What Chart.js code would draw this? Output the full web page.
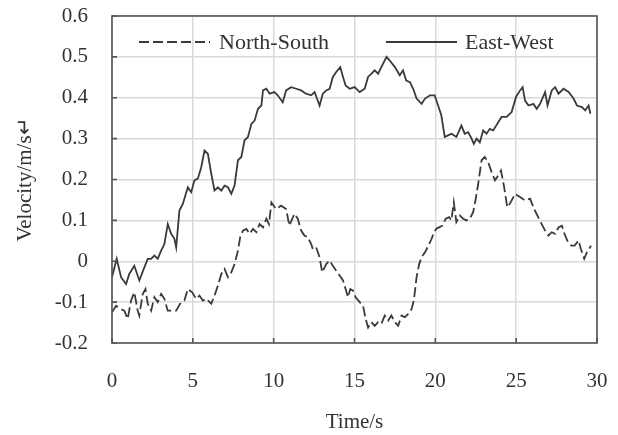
<!DOCTYPE html>
<html>
<head>
<meta charset="utf-8">
<script src="https://cdn.jsdelivr.net/npm/chart.js@4/dist/chart.umd.min.js"></script>
<style>
  body { margin: 0; background: #fff; }
  #wrap { width: 618px; height: 435px; }
</style>
</head>
<body>
<div id="wrap"><canvas id="velocityChart" width="618" height="435"></canvas></div>
<script>
// Axis ticks
const xTicks = [0, 5, 10, 15, 20, 25, 30];
const yTicks = [-0.2, -0.1, 0, 0.1, 0.2, 0.3, 0.4, 0.5, 0.6];

// North-South (dashed)
const nsTime = [0, 0.25, 0.56, 0.76, 0.97, 1.18, 1.38, 1.59, 1.69, 1.9,
  2.07, 2.21, 2.42, 2.62, 2.83, 3.04, 3.24, 3.45, 3.66, 3.97,
  4.21, 4.48, 4.69, 4.96, 5.21, 5.41, 5.62, 5.83, 6.14, 6.34,
  6.55, 6.76, 6.96, 7.17, 7.38, 7.58, 7.79, 7.93, 8.1, 8.31,
  8.51, 8.72, 8.93, 9.13, 9.34, 9.55, 9.71, 9.86, 10.14, 10.46,
  10.77, 10.97, 11.28, 11.49, 11.7, 11.9, 12.11, 12.32, 12.42, 12.63,
  12.84, 13.0, 13.25, 13.46, 13.66, 13.87, 14.08, 14.29, 14.45, 14.6,
  14.74, 14.91, 15.07, 15.32, 15.53, 15.69, 15.84, 16.05, 16.25, 16.46,
  16.66, 16.87, 17.08, 17.28, 17.5, 17.7, 17.91, 18.12, 18.32, 18.53,
  18.67, 18.84, 19.0, 19.15, 19.36, 19.57, 19.77, 19.92, 20.08, 20.23,
  20.43, 20.64, 20.85, 20.99, 21.14, 21.3, 21.51, 21.72, 21.93, 22.13,
  22.34, 22.5, 22.65, 22.86, 23.06, 23.27, 23.48, 23.69, 23.89, 24.06,
  24.24, 24.45, 24.66, 24.93, 25.24, 25.55, 25.86, 26.11, 26.31, 26.58,
  26.79, 27.0, 27.2, 27.41, 27.62, 27.83, 27.99, 28.2, 28.41, 28.61,
  28.86, 29.0, 29.21, 29.38, 29.63];
const nsVelocity = [-0.125, -0.109, -0.117, -0.121, -0.141, -0.096, -0.076, -0.121, -0.133, -0.08,
  -0.068, -0.104, -0.121, -0.088, -0.1, -0.08, -0.092, -0.121, -0.121, -0.121,
  -0.104, -0.096, -0.068, -0.076, -0.092, -0.084, -0.096, -0.092, -0.104, -0.084,
  -0.06, -0.031, -0.019, -0.039, -0.027, -0.007, 0.026, 0.059, 0.075, 0.079,
  0.067, 0.079, 0.071, 0.091, 0.083, 0.104, 0.091, 0.144, 0.128, 0.136,
  0.128, 0.087, 0.116, 0.104, 0.075, 0.063, 0.059, 0.042, 0.03, 0.034,
  0.01, -0.027, -0.007, 0.002, -0.011, -0.023, -0.035, -0.047, -0.068, -0.088,
  -0.068, -0.072, -0.088, -0.1, -0.109, -0.141, -0.162, -0.149, -0.158, -0.149,
  -0.153, -0.133, -0.145, -0.133, -0.149, -0.158, -0.133, -0.137, -0.129, -0.117,
  -0.096, -0.039, -0.007, 0.01, 0.022, 0.038, 0.055, 0.071, 0.08, 0.083,
  0.087, 0.104, 0.108, 0.1, 0.144, 0.096, 0.112, 0.104, 0.1, 0.104,
  0.12, 0.153, 0.189, 0.247, 0.255, 0.242, 0.218, 0.198, 0.21, 0.222,
  0.185, 0.132, 0.144, 0.165, 0.157, 0.149, 0.153, 0.128, 0.112, 0.091,
  0.075, 0.063, 0.071, 0.067, 0.083, 0.087, 0.067, 0.047, 0.038, 0.038,
  0.051, 0.03, 0.006, 0.022, 0.038];

// East-West (solid)
const ewTime = [0, 0.29, 0.56, 0.87, 1.07, 1.38, 1.69, 2.0, 2.21, 2.42,
  2.62, 2.83, 3.04, 3.24, 3.45, 3.66, 3.86, 3.97, 4.17, 4.38,
  4.69, 4.9, 5.1, 5.31, 5.52, 5.72, 5.93, 6.14, 6.34, 6.55,
  6.76, 6.96, 7.17, 7.38, 7.58, 7.79, 8.0, 8.2, 8.41, 8.62,
  8.82, 9.03, 9.24, 9.34, 9.55, 9.75, 10.04, 10.25, 10.56, 10.77,
  11.08, 11.4, 11.7, 12.0, 12.32, 12.53, 12.84, 13.04, 13.25, 13.46,
  13.66, 13.87, 14.12, 14.29, 14.45, 14.7, 15.01, 15.32, 15.63, 15.84,
  16.05, 16.25, 16.46, 16.66, 16.98, 17.18, 17.5, 17.8, 18.0, 18.2,
  18.43, 18.63, 18.84, 19.15, 19.36, 19.67, 19.96, 20.17, 20.37, 20.58,
  20.79, 21.0, 21.3, 21.61, 21.82, 22.03, 22.24, 22.38, 22.55, 22.75,
  22.96, 23.17, 23.37, 23.58, 23.89, 24.1, 24.41, 24.72, 24.99, 25.24,
  25.4, 25.55, 25.76, 26.07, 26.27, 26.48, 26.79, 26.94, 27.2, 27.41,
  27.62, 27.93, 28.24, 28.55, 28.76, 29.07, 29.27, 29.48, 29.59];
const ewVelocity = [-0.039, 0.006, -0.039, -0.056, -0.031, -0.011, -0.047, -0.015, 0.006, 0.006,
  0.014, 0.006, 0.026, 0.042, 0.091, 0.067, 0.055, 0.034, 0.124, 0.14,
  0.181, 0.169, 0.198, 0.202, 0.23, 0.271, 0.263, 0.214, 0.173, 0.181,
  0.173, 0.185, 0.181, 0.165, 0.185, 0.247, 0.255, 0.296, 0.304, 0.336,
  0.344, 0.373, 0.381, 0.418, 0.422, 0.41, 0.414, 0.406, 0.389, 0.418,
  0.426, 0.422, 0.418, 0.41, 0.406, 0.414, 0.381, 0.41, 0.418, 0.422,
  0.451, 0.463, 0.475, 0.451, 0.43, 0.422, 0.426, 0.414, 0.422, 0.451,
  0.459, 0.467, 0.459, 0.475, 0.5, 0.491, 0.475, 0.455, 0.467, 0.442,
  0.438, 0.422, 0.398, 0.385, 0.398, 0.406, 0.406, 0.381, 0.357, 0.304,
  0.308, 0.312, 0.304, 0.332, 0.312, 0.316, 0.3, 0.287, 0.3, 0.291,
  0.32, 0.312, 0.324, 0.32, 0.34, 0.353, 0.353, 0.365, 0.402, 0.418,
  0.426, 0.393, 0.381, 0.385, 0.373, 0.385, 0.414, 0.381, 0.418, 0.426,
  0.41, 0.422, 0.414, 0.398, 0.381, 0.377, 0.369, 0.381, 0.361];

const seriesNames = ["North-South", "East-West"];

const inkColor = "#3a3a3a";
const textColor = "#333333";
const serif = "'Liberation Serif', 'Times New Roman', serif";

function toPoints(times, values) {
  return times.map((t, i) => ({ x: t, y: values[i] }));
}

// keep the plot box fixed: no extra room for half tick labels
function noEdgePadding(scale) {
  scale.paddingTop = 0;
  scale.paddingBottom = 0;
  scale.paddingLeft = 0;
  scale.paddingRight = 0;
}

// Frame, inside tick marks and in-plot legend
const framePlugin = {
  id: "frame",
  afterDraw(chart) {
    const { ctx, chartArea } = chart;
    const { left, right, top, bottom } = chartArea;
    const xs = chart.scales.x, ys = chart.scales.y;
    ctx.save();
    ctx.strokeStyle = "#555555";
    ctx.lineWidth = 1.6;
    ctx.setLineDash([]);
    ctx.strokeRect(left, top, right - left, bottom - top);

    // short tick marks on the inner side
    ctx.beginPath();
    yTicks.forEach(v => {
      const py = ys.getPixelForValue(v);
      ctx.moveTo(left, py);
      ctx.lineTo(left + 5, py);
    });
    xTicks.forEach(v => {
      const px = xs.getPixelForValue(v);
      ctx.moveTo(px, bottom);
      ctx.lineTo(px, bottom - 5);
    });
    ctx.stroke();

    // legend
    const legendY = top + 26;
    const slots = [
      { x0: left + 27, x1: left + 98, tx: left + 107 },
      { x0: left + 274, x1: left + 345, tx: left + 353 }
    ];
    ctx.font = "22px " + serif;
    ctx.textBaseline = "middle";
    ctx.textAlign = "left";
    chart.data.datasets.forEach((ds, i) => {
      const s = slots[i];
      ctx.strokeStyle = ds.borderColor;
      ctx.lineWidth = ds.borderWidth;
      ctx.setLineDash(ds.borderDash || []);
      ctx.beginPath();
      ctx.moveTo(s.x0, legendY);
      ctx.lineTo(s.x1, legendY);
      ctx.stroke();
      ctx.fillStyle = textColor;
      ctx.fillText(ds.label, s.tx, legendY + 1);
    });
    ctx.restore();
  }
};

const velocityCtx = document.getElementById("velocityChart");
new Chart(velocityCtx, {
  type: "line",
  data: {
    datasets: [{
      label: seriesNames[0],
      data: toPoints(nsTime, nsVelocity),
      borderColor: inkColor,
      borderWidth: 1.8,
      borderDash: [10, 4],
      pointRadius: 0,
      tension: 0,
      fill: false
    }, {
      label: seriesNames[1],
      data: toPoints(ewTime, ewVelocity),
      borderColor: inkColor,
      borderWidth: 1.8,
      pointRadius: 0,
      tension: 0,
      fill: false
    }]
  },
  options: {
    responsive: false,
    animation: false,
    layout: { padding: { top: 16, right: 21, left: 0, bottom: 0 } },
    plugins: {
      legend: { display: false },
      tooltip: { enabled: false }
    },
    scales: {
      x: {
        type: "linear",
        min: 0,
        max: 30,
        afterBuildTicks: scale => { scale.ticks = xTicks.map(v => ({ value: v })); },
        afterFit: scale => { scale.height = 92; noEdgePadding(scale); },
        ticks: {
          color: textColor,
          font: { family: serif, size: 21 },
          padding: 26,
          maxRotation: 0
        },
        grid: { color: "#d9d9d9", lineWidth: 1.5, drawTicks: false },
        border: { display: false },
        title: {
          display: true,
          text: "Time/s",
          color: textColor,
          font: { family: serif, size: 21 },
          padding: { top: 0, bottom: 0 }
        }
      },
      y: {
        min: -0.2,
        max: 0.6,
        afterBuildTicks: scale => { scale.ticks = yTicks.map(v => ({ value: v })); },
        afterFit: scale => { scale.width = 112; noEdgePadding(scale); },
        ticks: {
          color: textColor,
          font: { family: serif, size: 21 },
          padding: 24,
          callback: v => String(Number(v.toFixed(1)))
        },
        grid: { color: "#d9d9d9", lineWidth: 1.5, drawTicks: false },
        border: { display: false },
        title: {
          display: true,
          text: "Velocity/m/s\u21B5",
          color: textColor,
          font: { family: serif, size: 21 },
          padding: { top: 13, bottom: 0 }
        }
      }
    }
  },
  plugins: [framePlugin]
});
</script>
</body>
</html>
